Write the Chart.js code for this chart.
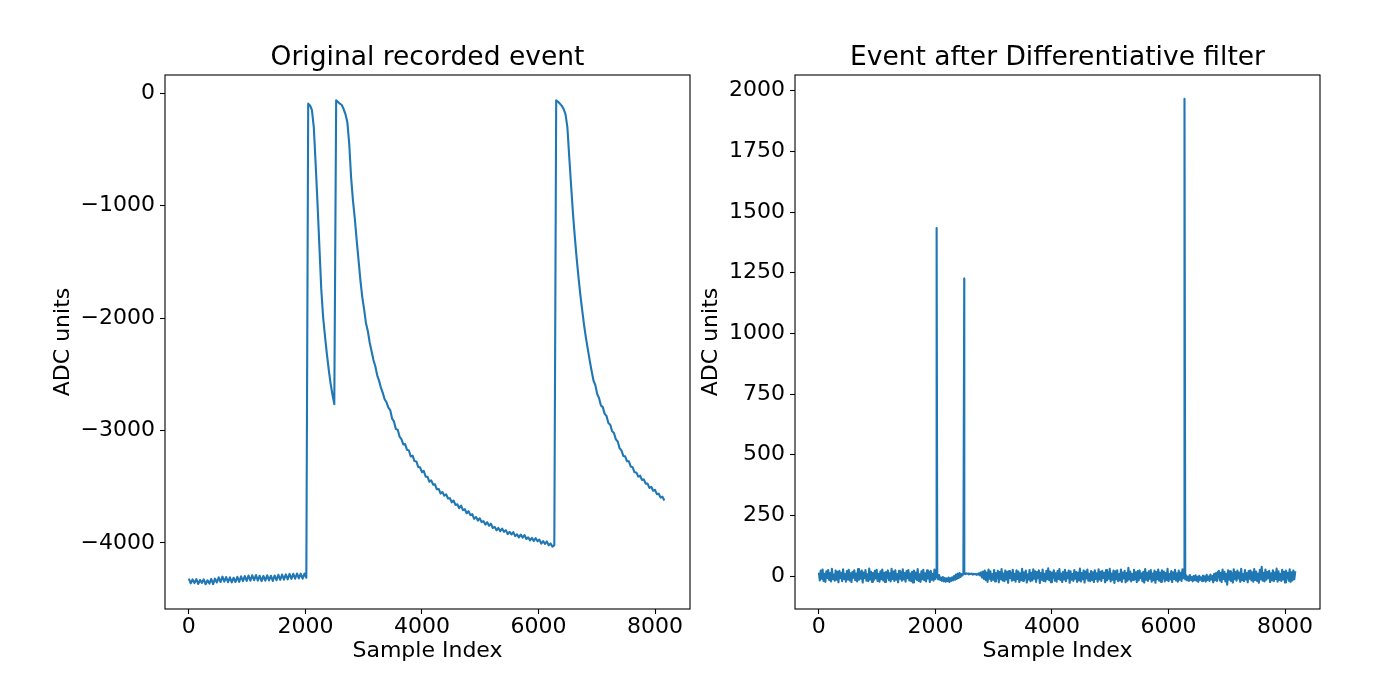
<!DOCTYPE html>
<html>
<head>
<meta charset="utf-8">
<script src="https://cdn.jsdelivr.net/npm/chart.js@4.4.1/dist/chart.umd.min.js"></script>
<style>
html, body { margin: 0; padding: 0; background: #fff; }
#wrap { position: relative; width: 1381px; height: 676px; overflow: hidden; }
.box { position: absolute; top: 0; height: 676px; }
#leftBox { left: 0; width: 695px; }
#rightBox { left: 680px; width: 701px; }
</style>
</head>
<body>
<div id="wrap">
  <div class="box" id="leftBox"><canvas id="rawChart"></canvas></div>
  <div class="box" id="rightBox"><canvas id="filtChart"></canvas></div>
</div>
<script>
// values, one every RAW_STEP / FILT_STEP samples
const RAW_STEP = 32;
const FILT_STEP = 16;

const rawTrace = [
  -4318, -4360, -4325, -4358, -4322, -4365, -4330, -4355, -4324, -4368,
  -4332, -4362, -4320, -4366, -4318, -4352, -4306, -4348, -4300, -4345,
  -4304, -4350, -4306, -4352, -4310, -4348, -4302, -4346, -4298, -4340,
  -4295, -4338, -4290, -4336, -4288, -4332, -4286, -4335, -4292, -4340,
  -4294, -4336, -4288, -4334, -4292, -4338, -4290, -4332, -4284, -4328,
  -4282, -4326, -4280, -4324, -4276, -4320, -4275, -4318, -4272, -4316,
  -4274, -4318, -4272, -4310,
  -92, -108, -150, -300, -630, -980, -1360, -1740, -1990, -2160,
  -2315, -2455, -2580, -2680, -2765,
  -62, -77, -92, -104, -140, -187, -258, -447, -745, -952,
  -1115, -1306, -1484, -1662, -1813, -1922, -2046, -2117, -2219, -2295,
  -2372, -2428, -2509, -2556, -2619, -2665, -2722, -2749, -2797,
  -2819, -2894, -2919, -2987, -2993, -3054, -3076, -3124, -3121, -3172,
  -3178, -3231, -3224, -3272, -3275, -3324, -3328, -3371, -3360, -3410,
  -3411, -3456, -3444, -3482, -3479, -3523, -3520, -3561, -3547, -3580,
  -3568, -3605, -3602, -3639, -3623, -3662, -3656, -3691, -3669, -3708,
  -3700, -3736, -3718, -3753, -3744, -3786, -3770, -3801, -3781, -3815,
  -3806, -3837, -3816, -3847, -3829, -3867, -3857, -3887, -3867, -3896,
  -3873, -3901, -3887, -3922, -3901, -3925, -3904, -3940, -3924, -3951,
  -3926, -3953, -3930, -3965, -3951, -3977, -3955, -3983, -3958, -3986,
  -3971, -4006, -3984, -4008, -3987, -4022, -4005, -4033, -4020,
  -62, -75, -92, -112, -140, -185, -300, -565, -820, -1068,
  -1280, -1470, -1642, -1800, -1935, -2068, -2180, -2280, -2378, -2470,
  -2555, -2596, -2675, -2712, -2777, -2792, -2852, -2871, -2933, -2949,
  -3007, -3022, -3079, -3098, -3158, -3177, -3226, -3230, -3274, -3274,
  -3321, -3326, -3372, -3373, -3410, -3402, -3439, -3435, -3473, -3472,
  -3511, -3501, -3536, -3528, -3566, -3562, -3597, -3589, -3623
];

const filteredTrace = [
  14, -18, 22, -11, 27, -20, 9, -24, 19, -8,
  25, -16, 12, -22, 30, -13, 6, -19, 23, -15,
  17, -26, 21, -9, 13, -21, 28, -12, 8, -23,
  20, -14, 26, -18, 11, -25, 16, -7, 24, -17,
  10, -22, 29, -15, 18, -11, 22, -27, 14, -9,
  25, -19, 7, -21, 31, -14, 17, -24, 12, -16,
  21, -10, 26, -20, 9, -23, 19, -13, 27, -18,
  13, -25, 16, -8, 23, -17, 11, -22, 30, -12,
  18, -20, 24, -15, 8, -26, 21, -11, 15, -19,
  28, -14, 12, -23, 20, -9, 25, -18, 10, -21,
  17, -27, 22, -12, 14, -16, 29, -20, 7, -24,
  19, -13, 26, -17, 11, -22, 23, -10, 16, -25,
  21, -15, 9, -19, 27, -12, 18,
  -2, -14, 4, -16, -6, -20, -4, -22, -8, -24,
  -10, -21, -6, -25, -9, -20, -5, -18, 0, -15,
  6, -12, 10, -8, 12, -4, 8, 2, 11,
  10, 8, 11, 9, 10, 7, 9, 8, 10, 6,
  9, 7, 8, 5, 9, 6, 12, 2, 15, -6, 18, -12,
  22, -17, 14, -24, 27, -11, 19, -20, 8, -15,
  25, -22, 12, -9, 21, -26, 16, -13, 29, -18,
  10, -21, 23, -14, 17, -28, 20, -8, 13, -19,
  26, -16, 9, -23, 24, -12, 18, -25, 11, -17,
  30, -20, 15, -10, 22, -27, 7, -14, 25, -21,
  13, -18, 28, -11, 19, -24, 16, -9, 23, -29,
  12, -15, 27, -20, 9, -22, 21, -13, 32, -17,
  18, -26, 14, -8, 24, -19, 11, -23, 20, -12,
  29, -16, 10, -25, 17, -14, 26, -21, 13, -9,
  22, -28, 19, -15, 8, -20, 25, -11, 16, -24,
  14, -17, 31, -22, 12, -13, 23, -27, 18, -10,
  27, -19, 9, -21, 20, -16, 15, -25, 24, -12,
  11, -23, 28, -14, 17, -20, 21, -8, 13, -26,
  25, -18, 16, -11, 30, -22, 10, -15, 22, -29,
  19, -13, 24, -21, 8, -17, 27, -24, 14, -10,
  21, -26, 12, -19, 34, -14, 18, -22, 9, -16,
  26, -12, 15, -25, 20, -18, 23, -9, 11, -21,
  17, -27, 29, -15, 13, -20, 19, -11, 25, -23,
  10, -17, 22, -28, 16, -13, 27, -19, 14, -24,
  24, -10, 18, -22, 12, -16, 30, -21, 8, -14,
  20, -25, 15, -12, 26, -18, 11, -23, 22, -15,
  13, -20, 28, -9,
  8, -14, 2, -18, -2, -20, 4, -16, -4, -22,
  0, -17, 3, -19, -3, -24, 1, -15, -5, -21,
  2, -18, -1, -23, 5, -16, -2, -20, 6, -14,
  0, -26, 9, -17, 12, -20, 16,
  21, -18, 13, -25, 27, -12, 17, -22, 9, -36,
  24, -15, 19, -20, 11, -27, 28, -13, 16, -19,
  22, -10, 14, -24, 30, -17, 8, -21, 25, -14,
  12, -26, 20, -11, 23, -18, 15, -23, 29, -16,
  18, -20, 10, -28, 26, -13, 38, -19, 13, -22,
  27, -15, 16, -9, 21, -25, 11, -17, 24, -21,
  14, -12, 31, -23, 19, -16, 9, -20, 26, -14,
  17, -27, 22, -11, 13, -19, 28, -24, 15, -18,
  23, -13, 20
];

// single-sample spikes in the filtered trace
const spikeSamples = [2021, 2495, 6275];
const spikeHeights = [1434, 1226, 1967];

const xTicks = [0, 2000, 4000, 6000, 8000];
const rawTicks = [-4000, -3000, -2000, -1000, 0];
const filteredTicks = [0, 250, 500, 750, 1000, 1250, 1500, 1750, 2000];

Chart.defaults.font.family = '"DejaVu Sans", sans-serif';
Chart.defaults.color = '#000';

const rawPoints = rawTrace.map((v, i) => ({ x: i * RAW_STEP, y: v }));
const filteredPoints = filteredTrace.map((v, i) => ({ x: i * FILT_STEP, y: v }));
spikeSamples.forEach((s, k) => filteredPoints.push({ x: s, y: spikeHeights[k] }));
filteredPoints.sort((a, b) => a.x - b.x);

const fmt = v => (v < 0 ? '\u2212' + (-v) : String(v));

const framePlugin = {
  id: 'frame',
  afterDatasetsDraw(chart) {
    const a = chart.chartArea;
    const c = chart.ctx;
    c.save();
    c.strokeStyle = '#000';
    c.lineWidth = 1.1;
    c.strokeRect(a.left, a.top, a.right - a.left, a.bottom - a.top);
    c.restore();
  }
};

function makeChart(id, points, title, yMin, yMax, yTicks, yWidth, yTitlePad, padRight) {
  return new Chart(document.getElementById(id), {
    type: 'line',
    data: {
      datasets: [{
        data: points,
        borderColor: '#1f77b4',
        borderWidth: 2.1,
        borderJoinStyle: 'round',
        pointRadius: 0,
        tension: 0
      }]
    },
    options: {
      responsive: true,
      maintainAspectRatio: false,
      animation: false,
      events: [],
      layout: { padding: { top: 0, left: 0, right: padRight, bottom: 0 } },
      plugins: {
        legend: { display: false },
        tooltip: { enabled: false },
        title: {
          display: true,
          text: title,
          fullSize: false,
          font: { size: 26.5, weight: 'normal' },
          padding: { top: 42, bottom: 1.2 }
        }
      },
      scales: {
        x: {
          type: 'linear',
          min: -409.55,
          max: 8600.55,
          afterBuildTicks: s => { s.ticks = xTicks.map(v => ({ value: v })); },
          afterFit: s => { s.height = 67; },
          grid: { drawOnChartArea: false, tickLength: 5, tickColor: '#000', tickWidth: 1.1 },
          border: { display: false },
          ticks: { font: { size: 22 }, padding: 0, maxRotation: 0, callback: fmt },
          title: { display: true, text: 'Sample Index', font: { size: 22 }, padding: { top: 0, bottom: 11.8 } }
        },
        y: {
          min: yMin,
          max: yMax,
          afterBuildTicks: s => { s.ticks = yTicks.map(v => ({ value: v })); },
          afterFit: s => { s.width = yWidth; },
          grid: { drawOnChartArea: false, tickLength: 5, tickColor: '#000', tickWidth: 1.1 },
          border: { display: false },
          ticks: { font: { size: 22 }, padding: 5, callback: fmt },
          title: { display: true, text: 'ADC units', font: { size: 22 }, padding: { top: yTitlePad, bottom: 0 } }
        }
      }
    },
    plugins: [framePlugin]
  });
}

makeChart('rawChart', rawPoints, 'Original recorded event', -4588, 163, rawTicks, 165, 49.8, 5);
makeChart('filtChart', filteredPoints, 'Event after Differentiative filter', -136, 2065, filteredTicks, 115, 17.8, 61);
</script>
</body>
</html>
